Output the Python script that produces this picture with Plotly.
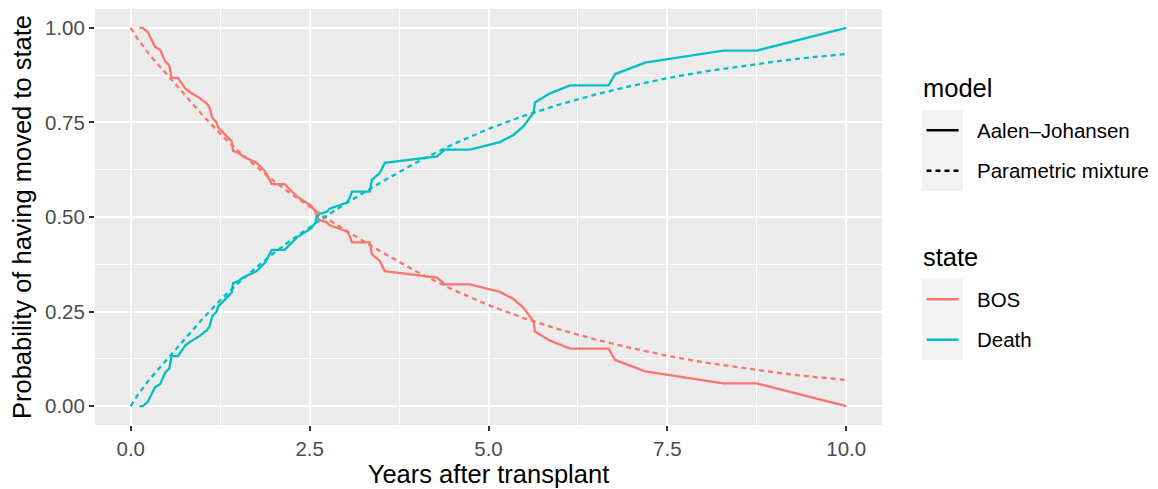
import plotly.graph_objects as go

# ---------------- data ----------------
# Aalen-Johansen estimates
aj_time = [0.12, 0.17, 0.24, 0.29, 0.34, 0.41, 0.48, 0.54, 0.57, 0.66, 0.76, 0.83,
           0.96, 1.06, 1.10, 1.14, 1.20, 1.22, 1.35, 1.41, 1.43, 1.50, 1.57, 1.63,
           1.69, 1.76, 1.88, 1.94, 1.97, 2.15, 2.27, 2.33, 2.52, 2.58, 2.60, 2.64,
           2.74, 2.78, 3.02, 3.06, 3.09, 3.34, 3.37, 3.48, 3.55, 4.28, 4.39, 4.74,
           5.16, 5.35, 5.49, 5.58, 5.63, 5.65, 5.86, 6.14, 6.68, 6.77, 7.19, 8.28,
           8.75, 10.0]
aj_death = [0.000, 0.000, 0.012, 0.033, 0.050, 0.058, 0.088, 0.100, 0.132, 0.132, 0.160, 0.170,
            0.185, 0.200, 0.210, 0.238, 0.250, 0.263, 0.290, 0.300, 0.325, 0.330, 0.340, 0.345,
            0.350, 0.357, 0.380, 0.400, 0.413, 0.413, 0.437, 0.447, 0.470, 0.485, 0.500, 0.508,
            0.514, 0.522, 0.538, 0.550, 0.567, 0.567, 0.598, 0.616, 0.643, 0.660, 0.678, 0.678,
            0.698, 0.717, 0.740, 0.765, 0.776, 0.803, 0.827, 0.848, 0.848, 0.878, 0.908, 0.940,
            0.940, 1.000]
aj_bos = [1.000, 1.000, 0.988, 0.967, 0.950, 0.942, 0.912, 0.900, 0.868, 0.868, 0.840, 0.830,
          0.815, 0.800, 0.790, 0.762, 0.750, 0.737, 0.710, 0.700, 0.675, 0.670, 0.660, 0.655,
          0.650, 0.643, 0.620, 0.600, 0.587, 0.587, 0.563, 0.553, 0.530, 0.515, 0.500, 0.492,
          0.486, 0.478, 0.462, 0.450, 0.433, 0.433, 0.402, 0.384, 0.357, 0.340, 0.322, 0.322,
          0.302, 0.283, 0.260, 0.235, 0.224, 0.197, 0.173, 0.152, 0.152, 0.122, 0.092, 0.060,
          0.060, 0.000]

# Parametric mixture estimates
pm_time = [0, 0.1, 0.25, 0.5, 0.75, 1.0, 1.25, 1.5, 1.75, 2.0, 2.25, 2.5, 2.75, 3.0,
           3.5, 4.0, 4.5, 5.0, 5.5, 6.0, 6.5, 7.0, 7.5, 8.0, 8.5, 9.0, 9.5, 10.0]
pm_death = [0.000, 0.030, 0.068, 0.122, 0.177, 0.230, 0.280, 0.325, 0.366, 0.405, 0.440,
            0.473, 0.505, 0.535, 0.592, 0.645, 0.692, 0.733, 0.768, 0.798, 0.824, 0.847,
            0.867, 0.884, 0.898, 0.911, 0.922, 0.931]
pm_bos = [1.000, 0.970, 0.932, 0.878, 0.823, 0.770, 0.720, 0.675, 0.634, 0.595, 0.560,
          0.527, 0.495, 0.465, 0.408, 0.355, 0.308, 0.267, 0.232, 0.202, 0.176, 0.153,
          0.133, 0.116, 0.102, 0.089, 0.078, 0.069]

x_ticks = [0, 2.5, 5, 7.5, 10]
x_tick_labels = ["0.0", "2.5", "5.0", "7.5", "10.0"]
y_ticks = [0, 0.25, 0.5, 0.75, 1.0]
y_tick_labels = ["0.00", "0.25", "0.50", "0.75", "1.00"]

model_labels = ["Aalen\u2013Johansen", "Parametric mixture"]
state_labels = ["BOS", "Death"]

# ---------------- styling ----------------
COL_BOS = "#F8766D"
COL_DEATH = "#00BFC4"
LW = 2.3
DASH = "5px,4px"
FONT = "Liberation Sans, Arial, sans-serif"
TITLE_SIZE = 25.5
TEXT_SIZE = 20.5

W, H = 1158, 489
ML, MR, MT, MB = 95, 276, 9, 64
PW, PH = W - ML - MR, H - MT - MB


def px_x(px):
    return (px - ML) / PW


def px_y(py):
    return (H - MB - py) / PH


fig = go.Figure()
fig.add_trace(go.Scatter(x=aj_time, y=aj_bos, mode="lines",
                         line=dict(color=COL_BOS, width=LW), showlegend=False, hoverinfo="skip"))
fig.add_trace(go.Scatter(x=aj_time, y=aj_death, mode="lines",
                         line=dict(color=COL_DEATH, width=LW), showlegend=False, hoverinfo="skip"))
fig.add_trace(go.Scatter(x=pm_time, y=pm_bos, mode="lines",
                         line=dict(color=COL_BOS, width=LW, dash=DASH), showlegend=False, hoverinfo="skip"))
fig.add_trace(go.Scatter(x=pm_time, y=pm_death, mode="lines",
                         line=dict(color=COL_DEATH, width=LW, dash=DASH), showlegend=False, hoverinfo="skip"))

# ---------------- manual ggplot-style legend ----------------
shapes = []
annotations = []


def legend_block(title, title_y, key_top, labels, colors, dashes):
    annotations.append(dict(text=title, x=px_x(921), y=px_y(title_y), xref="paper", yref="paper",
                            xanchor="left", yanchor="middle", showarrow=False,
                            font=dict(size=TITLE_SIZE, color="black", family=FONT)))
    n = len(labels)
    shapes.append(dict(type="rect", xref="paper", yref="paper",
                       x0=px_x(922), x1=px_x(963), y0=px_y(key_top), y1=px_y(key_top + 40.5 * n),
                       fillcolor="#F2F2F2", line=dict(width=0), layer="below"))
    for i, lab in enumerate(labels):
        cy = key_top + 20.25 + 40.5 * i
        shapes.append(dict(type="line", xref="paper", yref="paper",
                           x0=px_x(926.5), x1=px_x(958.5), y0=px_y(cy), y1=px_y(cy),
                           line=dict(color=colors[i], width=LW, dash=dashes[i])))
        annotations.append(dict(text=lab, x=px_x(975), y=px_y(cy), xref="paper", yref="paper",
                                xanchor="left", yanchor="middle", showarrow=False,
                                font=dict(size=TEXT_SIZE, color="black", family=FONT)))


legend_block("model", 88, 110, model_labels, ["black", "black"], ["solid", DASH])
legend_block("state", 257, 279, state_labels, [COL_BOS, COL_DEATH], ["solid", "solid"])

axis_common = dict(
    showgrid=True, gridcolor="white", gridwidth=2,
    zeroline=False, showline=False, automargin=False,
    ticks="outside", ticklen=5, tickwidth=1.5, tickcolor="#333333",
    tickfont=dict(size=TEXT_SIZE, color="#4D4D4D", family=FONT),
)

fig.update_layout(
    width=W, height=H,
    margin=dict(l=ML, r=MR, t=MT, b=MB),
    paper_bgcolor="white", plot_bgcolor="#EBEBEB",
    font=dict(family=FONT),
    showlegend=False,
    shapes=shapes, annotations=annotations,
    xaxis=dict(range=[-0.5, 10.5], tickvals=x_ticks, ticktext=x_tick_labels,
               minor=dict(dtick=1.25, tick0=0, showgrid=True, gridcolor="white", gridwidth=1, ticks=""),
               title=dict(text="Years after transplant",
                          font=dict(size=TITLE_SIZE, color="black", family=FONT), standoff=2),
               **axis_common),
    yaxis=dict(range=[-0.05, 1.05], tickvals=y_ticks, ticktext=y_tick_labels,
               minor=dict(dtick=0.125, tick0=0, showgrid=True, gridcolor="white", gridwidth=1, ticks=""),
               title=dict(text="Probability of having moved to state",
                          font=dict(size=TITLE_SIZE, color="black", family=FONT), standoff=6),
               **axis_common),
)

fig.write_html("out.html", config={"displayModeBar": False},
               post_script="document.body.style.margin='0';document.body.style.overflow='hidden';")
